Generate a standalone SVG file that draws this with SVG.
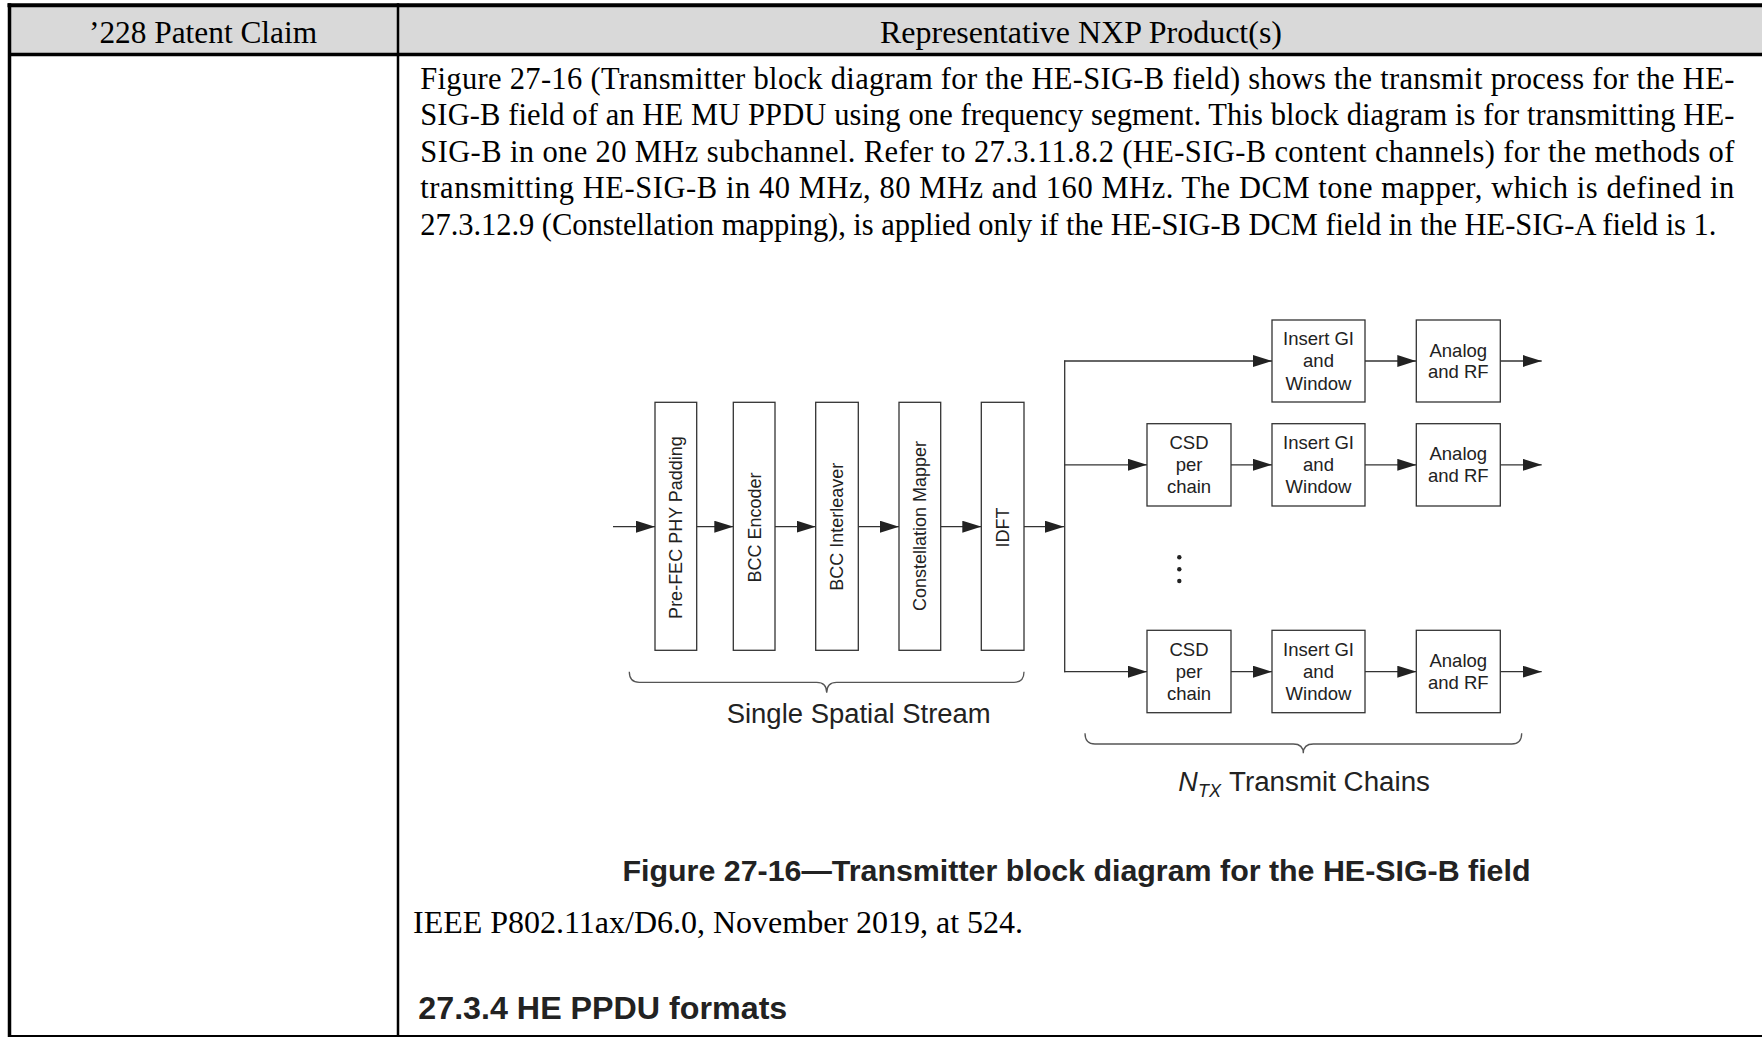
<svg xmlns="http://www.w3.org/2000/svg" width="1762" height="1037" viewBox="0 0 1762 1037">
  <style>
    .serif { font-family: "Liberation Serif", "Times New Roman", serif; fill: #000; }
    .sans { font-family: "Liberation Sans", Arial, sans-serif; fill: #222; }
    .hdr { font-size: 32px; }
    .para { font-size: 30.5px; }
    .blk { fill: #fff; stroke: #333; stroke-width: 1.3; }
    .lbl { font-size: 18.5px; text-anchor: middle; }
    .vlbl { font-size: 18px; text-anchor: middle; }
    .wire { fill: none; stroke: #333; stroke-width: 1.3; }
    .arr { marker-end: url(#head); }
    .brace { fill: none; stroke: #555; stroke-width: 1.3; }
    .grid { stroke: #000; fill: none; }
  </style>
  <defs>
    <marker id="head" markerUnits="userSpaceOnUse" markerWidth="19" markerHeight="12" refX="19" refY="6" orient="auto">
      <path d="M0,0 L19,6 L0,12 z" fill="#222"/>
    </marker>
  </defs>

  <rect x="0" y="0" width="1762" height="1037" fill="#fff"/>

  <!-- table frame -->
  <g id="table">
    <rect x="9" y="5" width="1753" height="49" fill="#d9d9d9"/>
    <line class="grid" x1="7.5" y1="5.3" x2="1762" y2="5.3" stroke-width="4"/>
    <line class="grid" x1="9" y1="54.5" x2="1762" y2="54.5" stroke-width="3.5"/>
    <line class="grid" x1="9.5" y1="3.3" x2="9.5" y2="1037" stroke-width="3.5"/>
    <line class="grid" x1="398" y1="3.3" x2="398" y2="1037" stroke-width="2.5"/>
    <line class="grid" x1="8" y1="1036" x2="1762" y2="1036" stroke-width="2.2"/>
    <text class="serif hdr" x="203" y="43" text-anchor="middle" textLength="228" lengthAdjust="spacingAndGlyphs">’228 Patent Claim</text>
    <text class="serif hdr" x="1081" y="43" text-anchor="middle" textLength="402" lengthAdjust="spacingAndGlyphs">Representative NXP Product(s)</text>
  </g>

  <!-- descriptive paragraph -->
  <g id="paragraph" class="serif para">
    <text x="420.3" y="88.8" textLength="1314" lengthAdjust="spacing">Figure 27-16 (Transmitter block diagram for the HE-SIG-B field) shows the transmit process for the HE-</text>
    <text x="420.3" y="125.3" textLength="1314" lengthAdjust="spacing">SIG-B field of an HE MU PPDU using one frequency segment. This block diagram is for transmitting HE-</text>
    <text x="420.3" y="161.8" textLength="1314" lengthAdjust="spacing">SIG-B in one 20 MHz subchannel. Refer to 27.3.11.8.2 (HE-SIG-B content channels) for the methods of</text>
    <text x="420.3" y="198.3" textLength="1314" lengthAdjust="spacing">transmitting HE-SIG-B in 40 MHz, 80 MHz and 160 MHz. The DCM tone mapper, which is defined in</text>
    <text x="420.3" y="234.8" textLength="1296" lengthAdjust="spacing">27.3.12.9 (Constellation mapping), is applied only if the HE-SIG-B DCM field in the HE-SIG-A field is 1.</text>
  </g>

  <!-- connectors -->
  <g id="connectors">
    <line class="wire arr" x1="613" y1="526.7" x2="655" y2="526.7"/>
    <line class="wire arr" x1="697" y1="526.7" x2="733.3" y2="526.7"/>
    <line class="wire arr" x1="775" y1="526.7" x2="815.7" y2="526.7"/>
    <line class="wire arr" x1="858.3" y1="526.7" x2="899" y2="526.7"/>
    <line class="wire arr" x1="940.7" y1="526.7" x2="981.3" y2="526.7"/>
    <line class="wire arr" x1="1024" y1="526.7" x2="1064" y2="526.7"/>
    <line class="wire" x1="1064.7" y1="360.4" x2="1064.7" y2="672.3"/>
    <!-- chain 1 -->
    <line class="wire arr" x1="1064.1" y1="361" x2="1272" y2="361"/>
    <line class="wire arr" x1="1365" y1="361" x2="1416.3" y2="361"/>
    <line class="wire arr" x1="1500.3" y1="361" x2="1541.7" y2="361"/>
    <!-- chain 2 -->
    <line class="wire arr" x1="1064.1" y1="464.8" x2="1147" y2="464.8"/>
    <line class="wire arr" x1="1231" y1="464.8" x2="1272" y2="464.8"/>
    <line class="wire arr" x1="1365" y1="464.8" x2="1416.3" y2="464.8"/>
    <line class="wire arr" x1="1500.3" y1="464.8" x2="1541.7" y2="464.8"/>
    <!-- chain N -->
    <line class="wire arr" x1="1064.1" y1="671.7" x2="1147" y2="671.7"/>
    <line class="wire arr" x1="1231" y1="671.7" x2="1272" y2="671.7"/>
    <line class="wire arr" x1="1365" y1="671.7" x2="1416.3" y2="671.7"/>
    <line class="wire arr" x1="1500.3" y1="671.7" x2="1541.7" y2="671.7"/>
  </g>

  <!-- single spatial stream blocks -->
  <g id="pre-fec-padding">
    <rect class="blk" x="655" y="402.3" width="41.7" height="248"/>
    <text class="sans vlbl" transform="translate(676,527.5) rotate(-90)" x="0" y="6.4">Pre-FEC PHY Padding</text>
  </g>
  <g id="bcc-encoder">
    <rect class="blk" x="733.3" y="402.3" width="41.7" height="248"/>
    <text class="sans vlbl" transform="translate(754.2,527.5) rotate(-90)" x="0" y="6.4">BCC Encoder</text>
  </g>
  <g id="bcc-interleaver">
    <rect class="blk" x="815.7" y="402.3" width="42.6" height="248"/>
    <text class="sans vlbl" transform="translate(837,526.7) rotate(-90)" x="0" y="6.4">BCC Interleaver</text>
  </g>
  <g id="constellation-mapper">
    <rect class="blk" x="899" y="402.3" width="41.7" height="248"/>
    <text class="sans vlbl" transform="translate(919.9,526) rotate(-90)" x="0" y="6.4">Constellation Mapper</text>
  </g>
  <g id="idft">
    <rect class="blk" x="981.3" y="402.3" width="42.7" height="248"/>
    <text class="sans vlbl" transform="translate(1002.7,527.5) rotate(-90)" x="0" y="6.4">IDFT</text>
  </g>

  <!-- transmit chain 1 -->
  <g id="insert-gi-1">
    <rect class="blk" x="1272" y="320" width="93" height="82"/>
    <text class="sans lbl" x="1318.5" y="345">Insert GI</text>
    <text class="sans lbl" x="1318.5" y="367.3">and</text>
    <text class="sans lbl" x="1318.5" y="389.6">Window</text>
  </g>
  <g id="analog-rf-1">
    <rect class="blk" x="1416.3" y="320" width="84" height="82"/>
    <text class="sans lbl" x="1458.3" y="356.5">Analog</text>
    <text class="sans lbl" x="1458.3" y="378.3">and RF</text>
  </g>

  <!-- transmit chain 2 -->
  <g id="csd-2">
    <rect class="blk" x="1147" y="423.7" width="84" height="82.3"/>
    <text class="sans lbl" x="1189" y="448.6">CSD</text>
    <text class="sans lbl" x="1189" y="470.9">per</text>
    <text class="sans lbl" x="1189" y="493.2">chain</text>
  </g>
  <g id="insert-gi-2">
    <rect class="blk" x="1272" y="423.7" width="93" height="82.3"/>
    <text class="sans lbl" x="1318.5" y="448.6">Insert GI</text>
    <text class="sans lbl" x="1318.5" y="470.9">and</text>
    <text class="sans lbl" x="1318.5" y="493.2">Window</text>
  </g>
  <g id="analog-rf-2">
    <rect class="blk" x="1416.3" y="423.7" width="84" height="82.3"/>
    <text class="sans lbl" x="1458.3" y="460.3">Analog</text>
    <text class="sans lbl" x="1458.3" y="482.1">and RF</text>
  </g>

  <!-- ellipsis between chains -->
  <g id="ellipsis" fill="#222">
    <circle cx="1179.3" cy="557.3" r="2.2"/>
    <circle cx="1179.3" cy="569.2" r="2.2"/>
    <circle cx="1179.3" cy="581" r="2.2"/>
  </g>

  <!-- transmit chain N -->
  <g id="csd-n">
    <rect class="blk" x="1147" y="630.3" width="84" height="82.4"/>
    <text class="sans lbl" x="1189" y="655.5">CSD</text>
    <text class="sans lbl" x="1189" y="677.8">per</text>
    <text class="sans lbl" x="1189" y="700.1">chain</text>
  </g>
  <g id="insert-gi-n">
    <rect class="blk" x="1272" y="630.3" width="93" height="82.4"/>
    <text class="sans lbl" x="1318.5" y="655.5">Insert GI</text>
    <text class="sans lbl" x="1318.5" y="677.8">and</text>
    <text class="sans lbl" x="1318.5" y="700.1">Window</text>
  </g>
  <g id="analog-rf-n">
    <rect class="blk" x="1416.3" y="630.3" width="84" height="82.4"/>
    <text class="sans lbl" x="1458.3" y="667">Analog</text>
    <text class="sans lbl" x="1458.3" y="688.8">and RF</text>
  </g>

  <!-- group braces and their labels -->
  <g id="stream-brace">
    <path class="brace" d="M629.3,671.7 Q629.3,682.3 639.3,682.3 H816.7 Q826.7,682.3 826.7,692.7 Q826.7,682.3 836.7,682.3 H1014 Q1024,682.3 1024,671.7"/>
    <text class="sans" x="858.7" y="723" font-size="27" text-anchor="middle" textLength="264" lengthAdjust="spacingAndGlyphs">Single Spatial Stream</text>
  </g>
  <g id="chains-brace">
    <path class="brace" d="M1085,733.3 Q1085,744 1095,744 H1293.3 Q1303.3,744 1303.3,753.3 Q1303.3,744 1313.3,744 H1511.7 Q1521.7,744 1521.7,733.3"/>
    <text class="sans" x="1178.3" y="791" font-size="27" font-style="italic">N</text>
    <text class="sans" x="1198" y="797" font-size="18" font-style="italic">TX</text>
    <text class="sans" x="1229" y="791" font-size="27" textLength="201" lengthAdjust="spacingAndGlyphs">Transmit Chains</text>
  </g>

  <!-- caption, citation and next heading -->
  <g id="caption">
    <text class="sans" x="622.5" y="880.5" font-size="30" font-weight="bold" textLength="908" lengthAdjust="spacingAndGlyphs">Figure 27-16—Transmitter block diagram for the HE-SIG-B field</text>
    <text class="serif" x="413" y="932.5" font-size="32" textLength="610" lengthAdjust="spacingAndGlyphs">IEEE P802.11ax/D6.0, November 2019, at 524.</text>
    <text class="sans" x="418.3" y="1018.5" font-size="32" font-weight="bold" textLength="369" lengthAdjust="spacingAndGlyphs">27.3.4 HE PPDU formats</text>
  </g>
</svg>
